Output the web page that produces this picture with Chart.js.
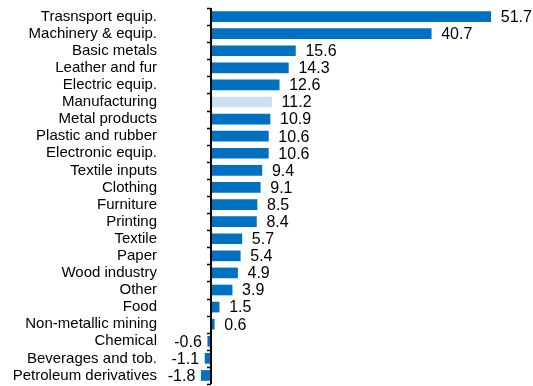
<!DOCTYPE html>
<html>
<head>
<meta charset="utf-8">
<script src="https://cdn.jsdelivr.net/npm/chart.js@4/dist/chart.umd.min.js"></script>
<style>
  html, body { margin: 0; padding: 0; background: #fff; overflow: hidden; }
  #wrap { position: relative; width: 533px; height: 386px; }
</style>
</head>
<body>
<div id="wrap"><canvas id="chart"></canvas></div>
<script>
// sectors and their growth values
const sectors = [
  'Trasnsport equip.', 'Machinery & equip.', 'Basic metals', 'Leather and fur',
  'Electric equip.', 'Manufacturing', 'Metal products', 'Plastic and rubber',
  'Electronic equip.', 'Textile inputs', 'Clothing', 'Furniture', 'Printing',
  'Textile', 'Paper', 'Wood industry', 'Other', 'Food', 'Non-metallic mining',
  'Chemical', 'Beverages and tob.', 'Petroleum derivatives'
];
const growth = [
  51.7, 40.7, 15.6, 14.3, 12.6, 11.2, 10.9, 10.6, 10.6, 9.4, 9.1, 8.5, 8.4,
  5.7, 5.4, 4.9, 3.9, 1.5, 0.6, -0.6, -1.1, -1.8
];
const totalLabel = 'Manufacturing';

const FONT = '"Liberation Sans", Arial, sans-serif';
const DARK = '#0070c0';
const LIGHT = '#c9e1f2';

const barColors = sectors.map(s => s === totalLabel ? LIGHT : DARK);

// axis line at zero with small tick marks between bars
const zeroAxis = {
  id: 'zeroAxis',
  afterDatasetsDraw(chart) {
    const { ctx, chartArea, scales } = chart;
    const x0 = scales.x.getPixelForValue(0);
    ctx.save();
    ctx.strokeStyle = '#000';
    ctx.lineWidth = 2;
    ctx.beginPath();
    ctx.moveTo(x0, chartArea.top);
    ctx.lineTo(x0, chartArea.bottom);
    ctx.stroke();
    ctx.lineWidth = 1.5;
    for (let i = 0; i <= sectors.length; i++) {
      const y = Math.round(scales.y.getPixelForValue(i - 0.5)) + 0.5;
      ctx.beginPath();
      ctx.moveTo(x0 - 4, y);
      ctx.lineTo(x0, y);
      ctx.stroke();
    }
    ctx.restore();
  }
};

// value next to the end of each bar
const valueLabels = {
  id: 'valueLabels',
  afterDatasetsDraw(chart) {
    const { ctx } = chart;
    const meta = chart.getDatasetMeta(0);
    ctx.save();
    ctx.font = '16px ' + FONT;
    ctx.fillStyle = '#000';
    ctx.textBaseline = 'middle';
    meta.data.forEach((bar, i) => {
      const v = growth[i];
      const txt = v.toFixed(1);
      if (v >= 0) {
        ctx.textAlign = 'left';
        ctx.fillText(txt, bar.x + 10, bar.y + 1);
      } else {
        ctx.textAlign = 'right';
        ctx.fillText(txt, bar.x - 6, bar.y + 1);
      }
    });
    ctx.restore();
  }
};

new Chart(document.getElementById('chart'), {
  type: 'bar',
  data: {
    labels: sectors,
    datasets: [{
      data: growth,
      backgroundColor: barColors,
      borderWidth: 0,
      barThickness: 10
    }]
  },
  options: {
    indexAxis: 'y',
    responsive: true,
    maintainAspectRatio: false,
    animation: false,
    layout: { padding: { top: 8, bottom: 2, left: 0, right: 19 } },
    plugins: {
      legend: { display: false },
      tooltip: { enabled: false }
    },
    scales: {
      x: {
        min: -9.43,
        max: 56,
        display: false,
        grid: { display: false }
      },
      y: {
        grid: { display: false, drawTicks: false },
        border: { display: false },
        afterFit(scale) {
          scale.width = 160;
          scale.paddingTop = 0;
          scale.paddingBottom = 0;
        },
        ticks: {
          autoSkip: false,
          padding: 3,
          color: '#000',
          font: { family: FONT, size: 15 }
        }
      }
    }
  },
  plugins: [zeroAxis, valueLabels]
});
</script>
</body>
</html>
